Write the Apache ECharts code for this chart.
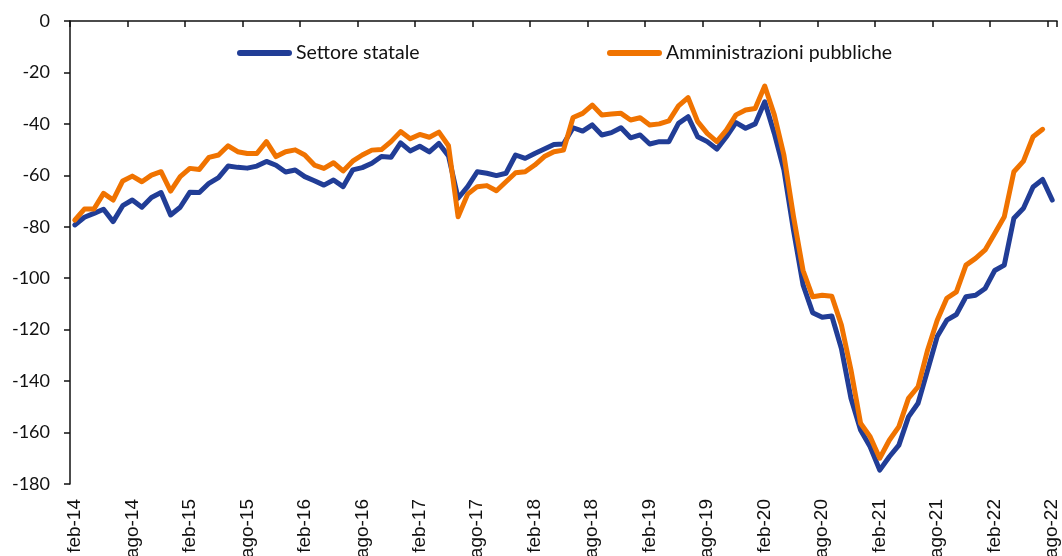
<!DOCTYPE html>
<html>
<head>
<meta charset="utf-8">
<script src="https://cdn.jsdelivr.net/npm/echarts@6/dist/echarts.min.js"></script>
<style>
  html, body { margin: 0; padding: 0; background: #fff; }
  #chart { width: 1062px; height: 556px; }
</style>
</head>
<body>
<div id="chart"></div>
<script>
// mesi in italiano, serie mensile da feb-14 ad ago-22
const monthNames = ['gen', 'feb', 'mar', 'apr', 'mag', 'giu', 'lug', 'ago', 'set', 'ott', 'nov', 'dic']
const categories = []
for (let y = 14; y <= 22; y++) {
  for (let m = 0; m < 12; m++) {
    if (y === 14 && m < 1) continue
    if (y === 22 && m > 7) continue
    categories.push(monthNames[m] + '-' + y)
  }
}

const settoreStatale = [
  -79.3, -76.3, -74.8, -73.2, -78.0, -71.8, -69.6, -72.4, -68.6, -66.7,
  -75.4, -72.4, -66.6, -66.7, -63.1, -60.9, -56.4, -56.9, -57.2, -56.4,
  -54.6, -56.1, -58.7, -57.9, -60.5, -62.1, -63.8, -61.8, -64.4, -57.9,
  -57.0, -55.3, -52.7, -53.0, -47.4, -50.5, -48.7, -50.9, -47.6, -52.5,
  -68.9, -64.4, -58.6, -59.2, -60.1, -59.2, -52.1, -53.4, -51.5, -49.8,
  -48.0, -47.8, -41.5, -42.8, -40.4, -44.3, -43.4, -41.5, -45.4, -44.3,
  -47.8, -46.9, -46.9, -39.8, -37.2, -45.0, -46.9, -49.8, -45.0, -39.5,
  -41.7, -40.0, -31.4, -43.7, -57.9, -81.3, -102.6, -113.4, -115.2, -114.7,
  -127.3, -146.7, -159.0, -165.5, -174.6, -169.4, -164.9, -153.9, -148.6, -135.7,
  -122.7, -116.3, -114.1, -107.2, -106.6, -104.0, -97.0, -94.9, -76.7, -72.8,
  -64.5, -61.6, -69.6
]

const amministrazioniPubbliche = [
  -77.4, -73.1, -73.1, -67.0, -69.6, -62.2, -60.3, -62.5, -59.9, -58.6,
  -66.1, -60.5, -57.3, -57.7, -53.0, -52.1, -48.5, -50.8, -51.5, -51.5,
  -46.9, -52.7, -50.8, -50.1, -52.1, -56.0, -57.3, -55.1, -58.3, -54.5,
  -52.1, -50.2, -50.0, -46.9, -43.0, -45.8, -44.1, -45.2, -43.2, -48.5,
  -76.1, -67.3, -64.4, -64.0, -66.0, -62.5, -59.0, -58.6, -56.0, -52.7,
  -50.8, -50.2, -37.5, -35.9, -32.7, -36.5, -36.2, -35.9, -38.5, -37.6,
  -40.4, -40.0, -38.8, -33.0, -29.8, -39.1, -43.7, -46.9, -42.4, -36.5,
  -34.6, -34.0, -25.3, -36.5, -52.1, -76.0, -97.0, -107.2, -106.6, -107.0,
  -118.2, -135.7, -156.4, -161.6, -170.0, -163.0, -157.7, -146.7, -142.2, -127.9,
  -116.3, -107.8, -105.3, -94.9, -92.3, -89.0, -82.6, -76.1, -58.6, -54.5,
  -45.0, -42.1
]

const BLUE = '#213d96'
const ORANGE = '#f07300'
const legendIcon = 'path://M3,0 L52,0 A3,3 0 0 1 52,6 L3,6 A3,3 0 0 1 3,0 Z'

const chart = echarts.init(document.getElementById('chart'))

const option = {
  animation: false,
  grid: { left: 70, right: 5, top: 21, bottom: 72, outerBoundsMode: 'none', containLabel: false },
  legend: [
    {
      left: 237, top: 43, padding: 0,
      data: [{ name: 'Settore statale', icon: legendIcon }],
      itemWidth: 55, itemHeight: 6, itemGap: 0,
      textStyle: { fontFamily: 'Lato', fontSize: 19.5, color: '#111', padding: [0, 0, 0, -1] }
    },
    {
      left: 607, top: 43, padding: 0,
      data: [{ name: 'Amministrazioni pubbliche', icon: legendIcon }],
      itemWidth: 55, itemHeight: 6, itemGap: 0,
      textStyle: { fontFamily: 'Lato', fontSize: 19.5, color: '#111', padding: [0, 0, 0, -1] }
    }
  ],
  xAxis: [
    {
      type: 'category',
      data: categories,
      position: 'bottom',
      boundaryGap: true,
      axisLine: { show: false },
      axisTick: { show: false },
      axisLabel: {
        interval: 5,
        rotate: 90,
        margin: 15,
        fontFamily: 'Liberation Sans',
        fontSize: 19,
        color: '#111'
      }
    },
    {
      type: 'category',
      data: categories,
      position: 'top',
      boundaryGap: true,
      axisLine: { show: true, onZero: false, lineStyle: { color: '#111', width: 1.5 } },
      axisTick: { show: true, inside: true, interval: 5, length: 6, lineStyle: { color: '#111', width: 1.5 } },
      axisLabel: { show: false }
    }
  ],
  yAxis: {
    type: 'value',
    min: -180,
    max: 0,
    interval: 20,
    axisLine: { show: true, lineStyle: { color: '#111', width: 1.5 } },
    axisTick: { show: true, length: 6, lineStyle: { color: '#111', width: 1.5 } },
    splitLine: { show: false },
    axisLabel: {
      margin: 20,
      fontFamily: 'Lato',
      fontSize: 18,
      color: '#111'
    }
  },
  series: [
    {
      name: 'Settore statale',
      type: 'line',
      xAxisIndex: 0,
      data: settoreStatale,
      symbol: 'none',
      color: BLUE,
      lineStyle: { width: 5, color: BLUE, cap: 'round', join: 'round' }
    },
    {
      name: 'Amministrazioni pubbliche',
      type: 'line',
      xAxisIndex: 0,
      data: amministrazioniPubbliche,
      symbol: 'none',
      color: ORANGE,
      lineStyle: { width: 5, color: ORANGE, cap: 'round', join: 'round' }
    }
  ]
}

chart.setOption(option)
</script>
</body>
</html>
